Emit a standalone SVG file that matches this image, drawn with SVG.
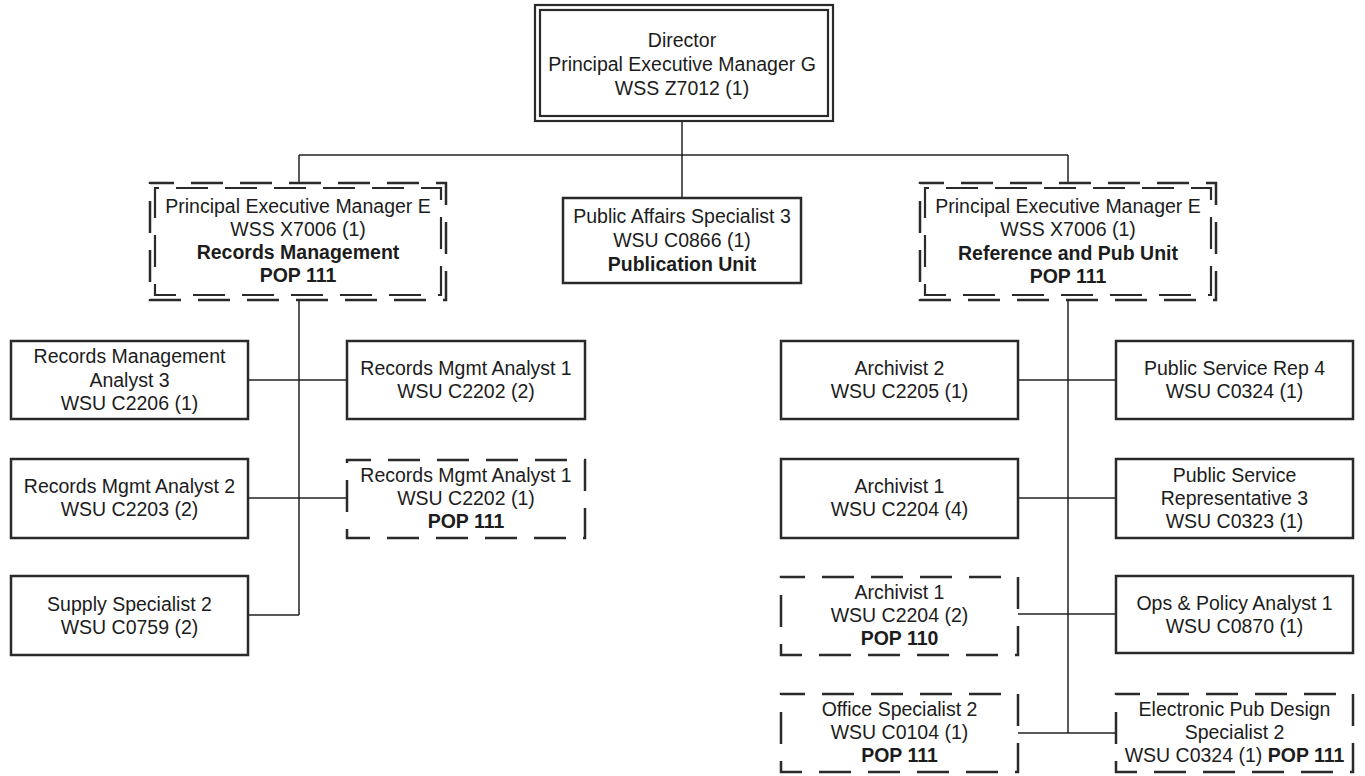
<svg xmlns="http://www.w3.org/2000/svg" width="1365" height="776" viewBox="0 0 1365 776">
<style>
.bg{fill:#fff}
.box{fill:#fff;stroke:#2a2a2a;stroke-width:2.5}
.dash{fill:#fff;stroke:#2a2a2a;stroke-width:2.5;stroke-dasharray:32 17;stroke-dashoffset:8}
.dash2{fill:none;stroke:#2a2a2a;stroke-width:2.2;stroke-dasharray:32 17}
.dbl{fill:none;stroke:#2a2a2a;stroke-width:2.2}
.conn line{stroke:#222;stroke-width:1.5}
text{font-family:"Liberation Sans",Arial,sans-serif;font-size:19.5px;fill:#1c1c1c;text-anchor:middle}
.b{font-weight:bold}
</style>
<rect class="bg" x="0" y="0" width="1365" height="776"/>
<g id="connectors" class="conn">
<line x1="682" y1="121" x2="682" y2="155"/>
<line x1="299" y1="155" x2="1068" y2="155"/>
<line x1="299" y1="155" x2="299" y2="183"/>
<line x1="1068" y1="155" x2="1068" y2="183"/>
<line x1="682" y1="155" x2="682" y2="198"/>
<line x1="299" y1="300" x2="299" y2="615"/>
<line x1="248" y1="380" x2="347" y2="380"/>
<line x1="248" y1="498" x2="347" y2="498"/>
<line x1="248" y1="615" x2="299" y2="615"/>
<line x1="1068" y1="300" x2="1068" y2="733"/>
<line x1="1018" y1="380" x2="1116" y2="380"/>
<line x1="1018" y1="498" x2="1116" y2="498"/>
<line x1="1018" y1="614" x2="1116" y2="614"/>
<line x1="1018" y1="733" x2="1116" y2="733"/>
</g>
<g id="director">
<rect class="dbl" x="535" y="5" width="298" height="116"/>
<rect class="dbl" x="540" y="10" width="288" height="106"/>
<text x="682" y="47">Director</text>
<text x="682" y="71">Principal Executive Manager G</text>
<text x="682" y="95">WSS Z7012 (1)</text>
</g>
<g id="pem-records">
<rect class="dash" x="150" y="183" width="296" height="117"/>
<rect class="dash2" x="155" y="188" width="286" height="107" stroke-dashoffset="28"/>
<text x="298" y="213">Principal Executive Manager E</text>
<text x="298" y="236">WSS X7006 (1)</text>
<text x="298" y="259" class="b">Records Management</text>
<text x="298" y="282" class="b">POP 111</text>
</g>
<g id="public-affairs">
<rect class="box" x="563" y="198" width="238" height="85"/>
<text x="682" y="223">Public Affairs Specialist 3</text>
<text x="682" y="247">WSU C0866 (1)</text>
<text x="682" y="271" class="b">Publication Unit</text>
</g>
<g id="pem-reference">
<rect class="dash" x="920" y="183" width="296" height="117"/>
<rect class="dash2" x="925" y="188" width="286" height="107" stroke-dashoffset="28"/>
<text x="1068" y="213">Principal Executive Manager E</text>
<text x="1068" y="236">WSS X7006 (1)</text>
<text x="1068" y="260" class="b">Reference and Pub Unit</text>
<text x="1068" y="283" class="b">POP 111</text>
</g>
<g id="rma3">
<rect class="box" x="11" y="341" width="237" height="78"/>
<text x="129.5" y="363">Records Management</text>
<text x="129.5" y="387">Analyst 3</text>
<text x="129.5" y="410">WSU C2206 (1)</text>
</g>
<g id="rma1-a">
<rect class="box" x="347" y="341" width="238" height="78"/>
<text x="466" y="375">Records Mgmt Analyst 1</text>
<text x="466" y="398">WSU C2202 (2)</text>
</g>
<g id="rma2">
<rect class="box" x="11" y="459" width="237" height="79"/>
<text x="129.5" y="493">Records Mgmt Analyst 2</text>
<text x="129.5" y="516">WSU C2203 (2)</text>
</g>
<g id="rma1-b">
<rect class="dash" x="347" y="460" width="238" height="78"/>
<text x="466" y="482">Records Mgmt Analyst 1</text>
<text x="466" y="505">WSU C2202 (1)</text>
<text x="466" y="528" class="b">POP 111</text>
</g>
<g id="supply">
<rect class="box" x="11" y="576" width="237" height="79"/>
<text x="129.5" y="611">Supply Specialist 2</text>
<text x="129.5" y="634">WSU C0759 (2)</text>
</g>
<g id="archivist2">
<rect class="box" x="781" y="341" width="237" height="78"/>
<text x="899.5" y="375">Archivist 2</text>
<text x="899.5" y="398">WSU C2205 (1)</text>
</g>
<g id="psr4">
<rect class="box" x="1116" y="341" width="237" height="78"/>
<text x="1234.5" y="375">Public Service Rep 4</text>
<text x="1234.5" y="398">WSU C0324 (1)</text>
</g>
<g id="archivist1-a">
<rect class="box" x="781" y="459" width="237" height="79"/>
<text x="899.5" y="493">Archivist 1</text>
<text x="899.5" y="516">WSU C2204 (4)</text>
</g>
<g id="psr3">
<rect class="box" x="1116" y="459" width="237" height="79"/>
<text x="1234.5" y="482">Public Service</text>
<text x="1234.5" y="505">Representative 3</text>
<text x="1234.5" y="528">WSU C0323 (1)</text>
</g>
<g id="archivist1-b">
<rect class="dash" x="781" y="577" width="237" height="78"/>
<text x="899.5" y="599">Archivist 1</text>
<text x="899.5" y="622">WSU C2204 (2)</text>
<text x="899.5" y="645" class="b">POP 110</text>
</g>
<g id="ops">
<rect class="box" x="1116" y="576" width="237" height="77"/>
<text x="1234.5" y="610">Ops &amp; Policy Analyst 1</text>
<text x="1234.5" y="633">WSU C0870 (1)</text>
</g>
<g id="office">
<rect class="dash" x="781" y="694" width="237" height="78"/>
<text x="899.5" y="716">Office Specialist 2</text>
<text x="899.5" y="739">WSU C0104 (1)</text>
<text x="899.5" y="762" class="b">POP 111</text>
</g>
<g id="epub">
<rect class="dash" x="1116" y="694" width="237" height="78"/>
<text x="1234.5" y="716">Electronic Pub Design</text>
<text x="1234.5" y="739">Specialist 2</text>
<text x="1234.5" y="762">WSU C0324 (1) <tspan class="b">POP 111</tspan></text>
</g>
</svg>
